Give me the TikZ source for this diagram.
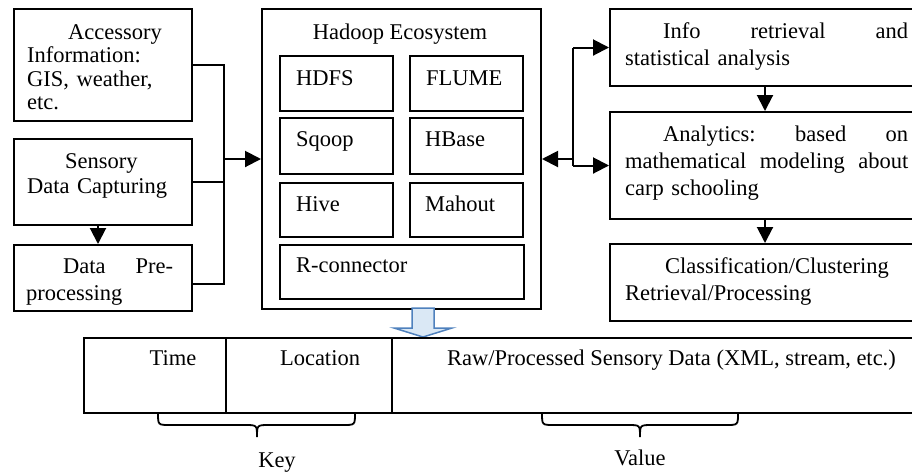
\documentclass[tikz,border=0pt]{standalone}
\usepackage{fontspec}
\setmainfont{Liberation Serif}
\usetikzlibrary{arrows.meta,calc}
\definecolor{arrowblue}{RGB}{79,129,189}
\definecolor{arrowfill}{RGB}{218,232,245}
\begin{document}
\begin{tikzpicture}[x=1pt,y=-1pt,
  box/.style={draw,line width=2pt,rectangle,inner sep=0pt,anchor=north west},
  txt/.style={inner sep=0pt,anchor=base west,align=left},
  lbl/.style={inner sep=0pt,anchor=base west},
  conn/.style={line width=2pt},
  arr/.style={line width=2pt,-{Triangle[length=16pt,width=16pt]}},
  brace/.style={line width=1.8pt},
  font=\fontsize{22.5}{27}\selectfont]
\useasboundingbox (0,0) rectangle (912,475);

% left boxes
\node[box,minimum width=178,minimum height=112] (acc) at (13,8) {};
\node[box,minimum width=178,minimum height=86] (sen) at (13,138) {};
\node[box,minimum width=178,minimum height=66] (pre) at (13,244) {};
\node[txt,text width=147,font=\fontsize{22.5}{23.5}\selectfont] (acct) at (27,39)
  {\hspace*{41pt}Accessory\\Information:\\GIS, weather,\\etc.};
\node[txt,text width=147,font=\fontsize{22.5}{25.5}\selectfont] (sent) at (27,168)
  {\hspace*{38pt}Sensory\\Data Capturing};
\node[txt,text width=147] (pret) at (26,273)
  {\hspace*{37pt}Data\hfill Pre-\\processing};

% hadoop
\node[box,minimum width=279,minimum height=300] (had) at (261,8) {};
\node[inner sep=0pt,anchor=base] (hadt) at (400,39) {Hadoop Ecosystem};
\node[box,minimum width=113,minimum height=55] (hdfs) at (279,55) {};
\node[box,minimum width=113,minimum height=55] (flume) at (409,55) {};
\node[box,minimum width=113,minimum height=56] (sqoop) at (279,117) {};
\node[box,minimum width=113,minimum height=56] (hbase) at (409,117) {};
\node[box,minimum width=113,minimum height=54] (hive) at (279,182) {};
\node[box,minimum width=113,minimum height=54] (mahout) at (409,182) {};
\node[box,minimum width=244,minimum height=54] (rcon) at (279,244) {};
\node[lbl] (hdfst) at ($(hdfs.north west)+(17,30)$) {HDFS};
\node[lbl] (flumet) at ($(flume.north west)+(17,30)$) {FLUME};
\node[lbl] (sqoopt) at ($(sqoop.north west)+(17,29)$) {Sqoop};
\node[lbl] (hbaset) at ($(hbase.north west)+(16,29)$) {HBase};
\node[lbl] (hivet) at ($(hive.north west)+(17,29)$) {Hive};
\node[lbl] (mahoutt) at ($(mahout.north west)+(16,29)$) {Mahout};
\node[lbl] (rcont) at ($(rcon.north west)+(17,28)$) {R-connector};

% right boxes
\node[box,minimum width=306,minimum height=77] (info) at (609,8) {};
\node[box,minimum width=306,minimum height=107] (ana) at (609,111) {};
\node[box,minimum width=306,minimum height=77] (cls) at (609,243) {};
\node[txt,text width=283] (infot) at (625,38)
  {\hspace*{38pt}Info\hfill retrieval\hfill and\\statistical analysis};
\node[txt,text width=283] (anat) at (625,141)
  {\hspace*{38pt}Analytics:\hfill based\hfill on\\mathematical\hfill modeling\hfill about\\carp schooling};
\node[txt,text width=283] (clst) at (625,273)
  {\hspace*{40pt}Classification/Clustering\\Retrieval/Processing};

% left connectors
\coordinate (bx) at (224,0);
\coordinate (pe) at ([yshift=-6pt]pre.east);
\draw[conn] (acc.east) -- (acc.east -| bx) -- (bx |- pe) -- (pe);
\draw[conn] (sen.east) -- (sen.east -| bx);
\draw[arr] (bx |- had.west) -- (had.west);
\draw[arr] ([xshift=-5pt]sen.south) -- ([xshift=-5pt]pre.north);

% right connectors
\coordinate (vx) at (573,0);
\draw[arr] (vx |- had.east) -- (had.east);
\draw[conn] (vx |- info.west) -- (vx |- ana.west);
\draw[arr] (vx |- info.west) -- (info.west);
\draw[arr] (vx |- ana.west) -- (ana.west);
\coordinate (ax) at (765,0);
\draw[arr] (ax |- info.south) -- (ax |- ana.north);
\draw[arr] (ax |- ana.south) -- (ax |- cls.north);

% blue down arrow
\draw[line width=1.5pt,draw=arrowblue,fill=arrowfill,line join=miter]
  (412,308) -- (412,328) -- (394,328) -- (423,337) -- (452,328) -- (434,328) -- (434,308) -- cycle;

% table
\node[box,minimum width=832,minimum height=75] (tbl) at (83,337) {};
\coordinate (d1) at (226,0);
\coordinate (d2) at (392,0);
\draw[conn] (d1 |- tbl.north) -- (d1 |- tbl.south);
\draw[conn] (d2 |- tbl.north) -- (d2 |- tbl.south);
\node[inner sep=0pt,anchor=base] (timet) at (173,365) {Time};
\node[inner sep=0pt,anchor=base] (loct) at (320,365) {Location};
\node[lbl] (rawt) at (447,365) {Raw/Processed Sensory Data (XML, stream, etc.)};

% braces
\draw[brace] (158,413) .. controls (158,425) .. (170,425) -- (245,425)
  .. controls (257,425) .. (257,437) .. controls (257,425) .. (269,425)
  -- (343,425) .. controls (355,425) .. (355,413);
\draw[brace] (542,413) .. controls (542,425) .. (554,425) -- (628,425)
  .. controls (640,425) .. (640,437) .. controls (640,425) .. (652,425)
  -- (726,425) .. controls (738,425) .. (738,413);
\node[inner sep=0pt,anchor=base] (keyt) at (277,467) {Key};
\node[inner sep=0pt,anchor=base] (valt) at (640,465) {Value};
\end{tikzpicture}
\end{document}
